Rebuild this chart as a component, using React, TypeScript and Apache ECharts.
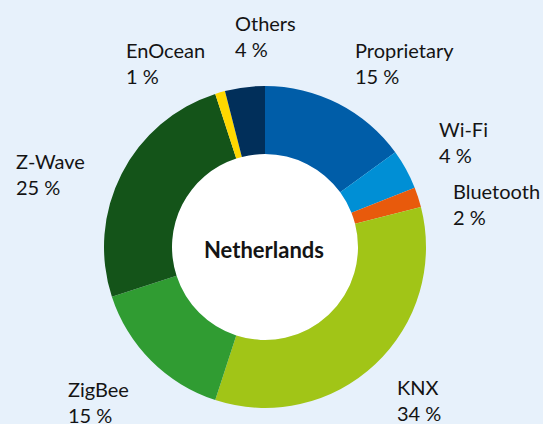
import React, { useEffect, useRef } from "react";
import * as echarts from "echarts";

const categories = ["Proprietary", "Wi-Fi", "Bluetooth", "KNX", "ZigBee", "Z-Wave", "EnOcean", "Others"];
const shares = [15, 4, 2, 34, 15, 25, 1, 4];
const colors = ["#005da8", "#008fd5", "#e85a0c", "#a1c517", "#309c32", "#145419", "#ffd800", "#012f5a"];
const centerTitle = "Netherlands";
// label anchor (top-left) for each category
const labelAnchors: [number, number][] = [
  [355, 37],
  [439, 116],
  [453, 178],
  [397, 374],
  [68, 376],
  [16, 148],
  [126, 37],
  [235, 10],
];

export default function App() {
  const ref = useRef<HTMLDivElement>(null);
  useEffect(() => {
    document.body.style.margin = "0";
    const chart = echarts.init(ref.current!, undefined, { renderer: "svg" });
    chart.setOption({
      animation: false,
      backgroundColor: "#e7f1fb",
      series: [
        {
          type: "pie",
          center: [265, 247],
          radius: [93, 161],
          startAngle: 90,
          clockwise: true,
          avoidLabelOverlap: false,
          data: categories.map((c, i) => ({
            name: c,
            value: shares[i],
            itemStyle: { color: colors[i] },
          })),
          label: {
            show: true,
            position: "outside",
            formatter: "{b}\n{c} %",
            color: "#141414",
            fontFamily: "Lato",
            fontSize: 20,
            lineHeight: 26,
            align: "left",
          },
          labelLine: { show: false },
          labelLayout: (params: any) => {
            const a = labelAnchors[params.dataIndex];
            return { x: a[0], y: a[1], align: "left", verticalAlign: "top" };
          },
        },
      ],
      graphic: [
        {
          type: "circle",
          shape: { cx: 265, cy: 247, r: 93 },
          style: { fill: "#ffffff" },
          z: 1,
        },
        {
          type: "text",
          x: 264,
          y: 249,
          style: {
            text: centerTitle,
            fontFamily: "Lato",
            fontWeight: "bold",
            fontSize: 22,
            fill: "#141414",
            align: "center",
            verticalAlign: "middle",
          },
          z: 100,
        },
      ],
    });
    return () => chart.dispose();
  }, []);
  return <div ref={ref} style={{ width: 543, height: 424, position: "absolute", left: 0, top: 0 }} />;
}
